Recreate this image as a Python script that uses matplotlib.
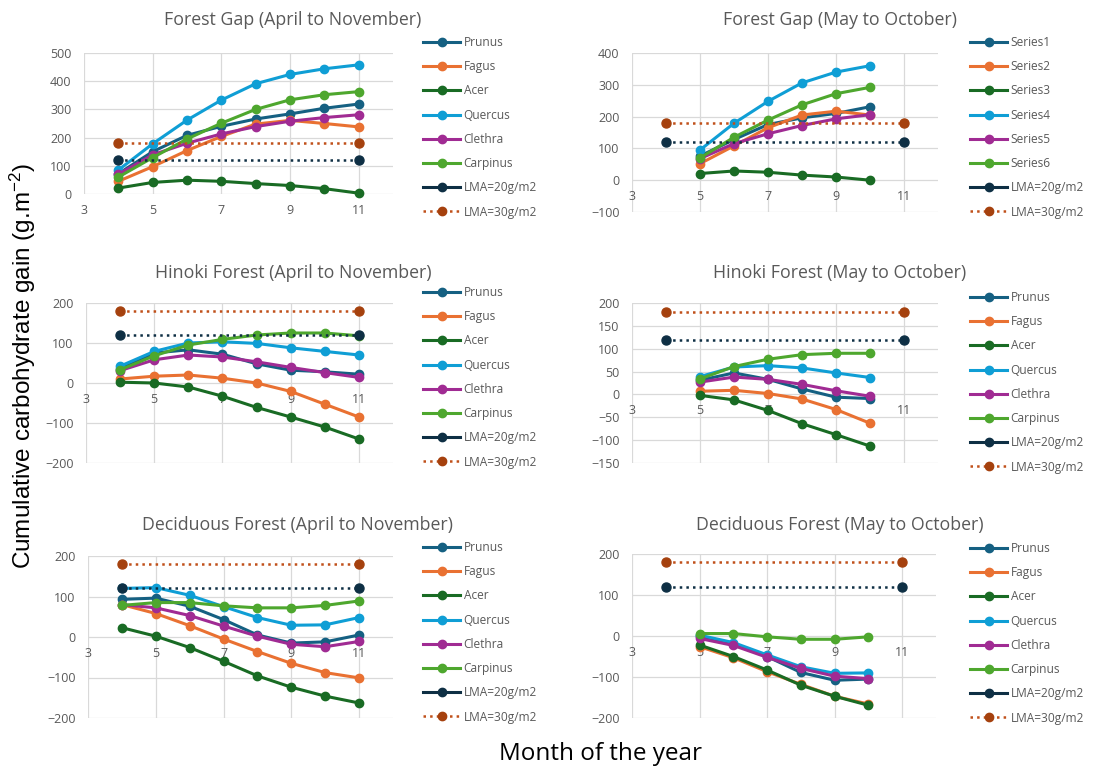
import matplotlib
matplotlib.use("Agg")
import matplotlib.pyplot as plt
from matplotlib.lines import Line2D

plt.rcParams['font.family'] = ['Open Sans', 'DejaVu Sans']
plt.rcParams['mathtext.default'] = 'regular'

# ---------------- data ----------------
months_apr = [4, 5, 6, 7, 8, 9, 10, 11]
months_may = [5, 6, 7, 8, 9, 10]
lma_x = [4, 11]
lma20 = [120, 120]
lma30 = [180, 180]

species = ["Prunus", "Fagus", "Acer", "Quercus", "Clethra", "Carpinus"]
series_names = ["Series1", "Series2", "Series3", "Series4", "Series5", "Series6"]

gap_apr = {
    "Prunus":   [72, 150, 208, 240, 266, 284, 304, 319],
    "Fagus":    [45, 97, 154, 204, 248, 261, 250, 238],
    "Acer":     [21, 41, 49, 45, 37, 30, 19, 3],
    "Quercus":  [85, 178, 262, 333, 391, 424, 444, 458],
    "Clethra":  [70, 139, 180, 213, 239, 258, 271, 281],
    "Carpinus": [60, 129, 195, 251, 300, 334, 352, 363],
}
gap_may = {
    "Prunus":   [76, 128, 175, 196, 210, 231],
    "Fagus":    [52, 108, 165, 205, 217, 205],
    "Acer":     [21, 29, 25, 16, 10, 0],
    "Quercus":  [95, 179, 248, 306, 340, 360],
    "Clethra":  [68, 115, 146, 172, 193, 206],
    "Carpinus": [70, 135, 189, 237, 272, 292],
}
hinoki_apr = {
    "Prunus":   [35, 75, 83, 72, 48, 32, 28, 22],
    "Fagus":    [10, 17, 20, 12, 0, -21, -53, -85],
    "Acer":     [2, 0, -10, -33, -61, -85, -110, -140],
    "Quercus":  [42, 79, 100, 103, 99, 88, 79, 70],
    "Clethra":  [31, 58, 70, 65, 53, 39, 26, 14],
    "Carpinus": [33, 68, 95, 109, 120, 125, 125, 118],
}
hinoki_may = {
    "Prunus":   [31, 47, 33, 12, -6, -9],
    "Fagus":    [7, 9, 2, -10, -33, -63],
    "Acer":     [-2, -12, -35, -64, -88, -113],
    "Quercus":  [39, 60, 63, 58, 47, 37],
    "Clethra":  [27, 38, 33, 22, 8, -4],
    "Carpinus": [34, 61, 77, 87, 90, 90],
}
decid_apr = {
    "Prunus":   [93, 96, 76, 43, 5, -15, -12, 5],
    "Fagus":    [80, 58, 28, -5, -36, -65, -88, -101],
    "Acer":     [23, 2, -26, -60, -96, -124, -146, -163],
    "Quercus":  [120, 122, 103, 75, 48, 29, 30, 48],
    "Clethra":  [80, 72, 53, 27, 2, -18, -24, -11],
    "Carpinus": [78, 85, 85, 77, 72, 72, 78, 89],
}
decid_may = {
    "Prunus":   [0, -20, -50, -89, -108, -105],
    "Fagus":    [-26, -53, -87, -118, -147, -166],
    "Acer":     [-22, -50, -83, -120, -147, -169],
    "Quercus":  [2, -16, -46, -75, -91, -90],
    "Clethra":  [-6, -23, -52, -79, -98, -104],
    "Carpinus": [6, 6, -2, -8, -8, -2],
}

titles = ["Forest Gap (April to November)", "Forest Gap (May to October)",
          "Hinoki Forest (April to November)", "Hinoki Forest (May to October)",
          "Deciduous Forest (April to November)", "Deciduous Forest (May to October)"]
x_ticks = [3, 5, 7, 9, 11]

# ---------------- style ----------------
colors = {"Prunus": "#156082", "Fagus": "#E97132", "Acer": "#196B24",
          "Quercus": "#0F9ED5", "Clethra": "#A02B93", "Carpinus": "#4EA72E"}
c_lma20 = "#0E2F44"
c_lma30 = "#A5410E"
c_lma30_line = "#C0501A"
txt = "#595959"
grid_c = "#D9D9D9"

W, H = 1117, 768
fig = plt.figure(figsize=(W / 100, H / 100), dpi=100)

# (left, right, top, bottom) px, ylim, yticks, legend anchor (x, ytop), title (x, y)
panels = [
    (gap_apr, months_apr, (84, 393, 53, 194), (0, 500), range(0, 501, 100), (423, 36), (293, 20), species),
    (gap_may, months_may, (632, 938, 53, 212), (-100, 400), range(-100, 401, 100), (970, 36), (840, 20), series_names),
    (hinoki_apr, months_apr, (86, 393, 303, 463), (-200, 200), range(-200, 201, 100), (423, 286), (293, 273), species),
    (hinoki_may, months_may, (632, 938, 303, 463), (-150, 200), range(-150, 201, 50), (970, 291), (840, 273), species),
    (decid_apr, months_apr, (88, 393, 556, 718), (-200, 200), range(-200, 201, 100), (423, 541), (297, 525), species),
    (decid_may, months_may, (632, 936, 554, 718), (-200, 200), range(-200, 201, 100), (970, 542), (840, 525), species),
]

for i, (data, months, (l, r, t, b), ylim, yt, (lx, ly), (tx, ty), labels) in enumerate(panels):
    ax = fig.add_axes([l / W, 1 - b / H, (r - l) / W, (b - t) / H])
    handles = []
    for sp, lab in zip(species, labels):
        ln, = ax.plot(months, data[sp], color=colors[sp], lw=2.2, marker='o',
                      markersize=6, label=lab, zorder=3, clip_on=False)
        handles.append(ln)
    ax.plot(lma_x, lma20, color=c_lma20, lw=1.8, ls=':', marker='o', markersize=6.5,
            zorder=4, clip_on=False)
    ax.plot(lma_x, lma30, color=c_lma30_line, lw=1.8, ls=':', marker='o', markersize=6.5,
            markerfacecolor=c_lma30, markeredgecolor=c_lma30, zorder=4, clip_on=False)
    h20 = Line2D([], [], color=c_lma20, lw=2.2, marker='o', markersize=6)
    h30 = Line2D([], [], color=c_lma30_line, lw=1.8, ls=':', marker='o', markersize=6,
                 markerfacecolor=c_lma30, markeredgecolor=c_lma30)
    handles += [h20, h30]
    leg_labels = list(labels) + ["LMA=20g/m2", "LMA=30g/m2"]

    ax.set_xlim(3, 12)
    ax.set_ylim(*ylim)
    ax.set_xticks(x_ticks)
    ax.set_yticks(list(yt))
    for s in ax.spines.values():
        s.set_visible(False)
    ax.spines['bottom'].set_position(('data', 0))
    ax.grid(True, color=grid_c, lw=0.9, zorder=0)
    ax.set_axisbelow(True)
    ax.tick_params(axis='both', length=0, labelsize=9, labelcolor=txt)
    ax.tick_params(axis='x', pad=7)
    ax.tick_params(axis='y', pad=9)

    ax.legend(handles, leg_labels, loc='upper left', bbox_to_anchor=(lx / W, 1 - ly / H),
              bbox_transform=fig.transFigure, frameon=False, borderpad=0, borderaxespad=0,
              handlelength=3.1, handletextpad=0.3, labelspacing=0.94, fontsize=8.6,
              labelcolor=txt)
    fig.text(tx / W, 1 - ty / H, titles[i], ha='center', va='center', fontsize=12.8, color=txt)

fig.text(23 / W, 1 - 366 / H, r'Cumulative carbohydrate gain (g.m$^{-2}$)', rotation=90,
         ha='center', va='center', fontsize=17.5, color='black',
         family=['Liberation Sans', 'DejaVu Sans'])
fig.text(600 / W, 1 - 754 / H, 'Month of the year', ha='center', va='center',
         fontsize=17.5, color='black')

fig.savefig('out.png', dpi=100, facecolor='white')
